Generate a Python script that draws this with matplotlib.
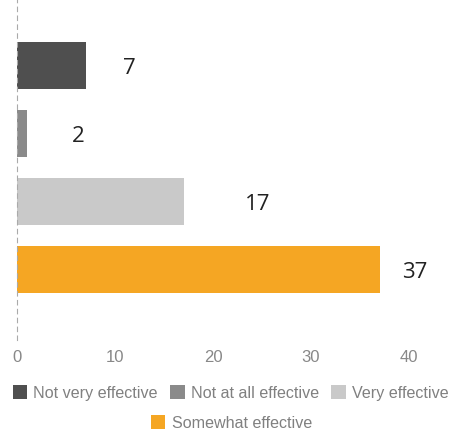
import matplotlib.pyplot as plt
from matplotlib.patches import Patch

# data (top to bottom)
categories = ["Not very effective", "Not at all effective", "Very effective", "Somewhat effective"]
values = [7, 2, 17, 37]
bar_lengths = [7, 1, 17, 37]  # as drawn in the source picture
colors = ["#4f4f4f", "#8a8a8a", "#c9c9c9", "#f5a623"]
label_pad = [37, 45, 61, 22]  # pixel gap between bar end and number

fig = plt.figure(figsize=(4.54, 4.32), dpi=100)
ax = fig.add_axes([17/454, 1 - 340/432, 392/454, 340/432])

pos = list(range(len(values)))
ax.barh(pos, bar_lengths, height=0.69, color=colors)
ax.set_ylim(3 + 1.04, -0.96)
ax.set_xlim(0, 40)

for y, b, v, pad in zip(pos, bar_lengths, values, label_pad):
    ax.annotate(str(v), (b, y), xytext=(pad * 0.72, -2), textcoords="offset points",
                ha="left", va="center", fontsize=16, color="#222222", family="Open Sans")

for s in ["top", "right", "bottom"]:
    ax.spines[s].set_visible(False)
ax.spines["left"].set_linestyle((0, (4, 4)))
ax.spines["left"].set_color("#aaaaaa")
ax.spines["left"].set_linewidth(0.8)
ax.set_yticks([])
ax.set_xticks([0, 10, 20, 30, 40])
ax.tick_params(axis="x", length=0, pad=7, labelsize=12, labelcolor="#888888")
for t in ax.get_xticklabels():
    t.set_family("Liberation Sans")

handles = [Patch(facecolor=c, edgecolor="none") for c in colors]
prop = {"family": "Liberation Sans", "size": 11.6}
fig.legend(handles[:3], categories[:3], loc="center", bbox_to_anchor=(0.508, 1 - 393/432),
           ncol=3, frameon=False, handlelength=0.9, handleheight=0.9, handletextpad=0.4,
           columnspacing=0.75, prop=prop, labelcolor="#808080")
fig.legend(handles[3:], categories[3:], loc="center", bbox_to_anchor=(0.51, 1 - 423/432),
           ncol=1, frameon=False, handlelength=0.9, handleheight=0.9, handletextpad=0.4,
           prop=prop, labelcolor="#808080")

fig.savefig("out.png", dpi=100)
